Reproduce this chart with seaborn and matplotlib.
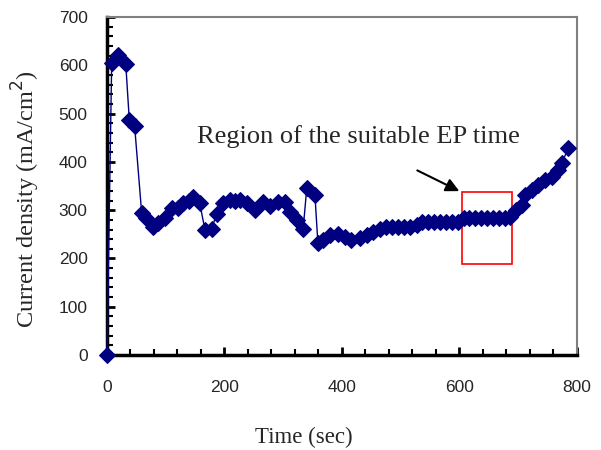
import numpy as np
import pandas as pd
import matplotlib
matplotlib.use("Agg")
import matplotlib.pyplot as plt
import seaborn as sns
from matplotlib.patches import Rectangle
from matplotlib.ticker import MultipleLocator

time_sec = [0, 8, 19, 32, 38, 47, 59, 67, 79, 87, 99, 110, 121, 130, 140, 147,
            158, 167, 178, 187, 198, 209, 218, 226, 238, 252, 266, 277, 291, 303,
            311, 323, 334, 340, 354, 359, 368, 380, 393, 405, 416, 431, 442, 453,
            465, 475, 485, 495, 505, 515, 527, 537, 547, 557, 567, 577, 587, 597,
            607, 617, 627, 637, 647, 657, 667, 677, 686, 697, 706, 711, 723, 734,
            745, 757, 768, 774, 785]
current = [0, 604, 621, 602, 487, 475, 295, 283, 266, 273, 284, 304, 304, 314, 320, 328,
           314, 258, 262, 293, 314, 322, 320, 322, 314, 300, 318, 308, 318, 318,
           297, 280, 262, 345, 331, 232, 238, 248, 250, 245, 238, 242, 248, 255,
           262, 266, 266, 266, 266, 266, 270, 275, 275, 275, 275, 275, 275, 275,
           283, 283, 283, 283, 283, 283, 283, 283, 285, 300, 311, 331, 342, 352,
           362, 369, 383, 397, 428]

df = pd.DataFrame({"Time (sec)": time_sec, "current": current})

sns.set_style("white")
plt.rcParams["font.family"] = ["Liberation Sans", "DejaVu Sans"]

fig = plt.figure(figsize=(6.01, 4.5), dpi=100)
ax = fig.add_axes([0.178, 0.211, 0.782, 0.751])

navy = "#000080"
sns.lineplot(data=df, x="Time (sec)", y="current", ax=ax, color=navy, linewidth=1,
             marker="D", markersize=8.5, markeredgecolor=navy, markerfacecolor=navy,
             clip_on=False, zorder=5)

ax.set_xlim(0, 800)
ax.set_ylim(0, 700)
ax.xaxis.set_major_locator(MultipleLocator(200))
ax.xaxis.set_minor_locator(MultipleLocator(40))
ax.yaxis.set_major_locator(MultipleLocator(100))
ax.yaxis.set_minor_locator(MultipleLocator(20))
ax.tick_params(axis="both", which="major", direction="in", length=6, width=2,
               color="black", labelsize=12.5, bottom=True, left=True)
ax.tick_params(axis="x", which="major", pad=18)
ax.tick_params(axis="y", which="major", pad=14)
ax.tick_params(axis="both", which="minor", direction="in", length=4, width=1.5,
               color="black", bottom=True, left=True)

for side in ["left", "bottom"]:
    ax.spines[side].set_color("black")
    ax.spines[side].set_linewidth(2.5)
for side in ["top", "right"]:
    ax.spines[side].set_color("#808080")
    ax.spines[side].set_linewidth(1.5)

serif = ["Liberation Serif", "DejaVu Serif"]
ax.set_xlabel("Time (sec)", fontsize=16.5, family=serif)
ax.xaxis.set_label_coords(0.418, -0.213)
ax.set_ylabel("Current density (mA/cm$^2$)", fontsize=17.5, family=serif)
ax.yaxis.set_label_coords(-0.138, 0.46)

# markierter Bereich
ax.add_patch(Rectangle((605, 188), 85, 150, fill=False, edgecolor="red", linewidth=1.2))
ax.annotate("", xy=(604, 337), xytext=(524, 385),
            arrowprops=dict(arrowstyle="-|>", color="black", lw=1.5, mutation_scale=20))
ax.text(153, 452, "Region of the suitable EP time", fontsize=19, family=serif,
        ha="left", va="center")

fig.savefig("out.png", dpi=100)
